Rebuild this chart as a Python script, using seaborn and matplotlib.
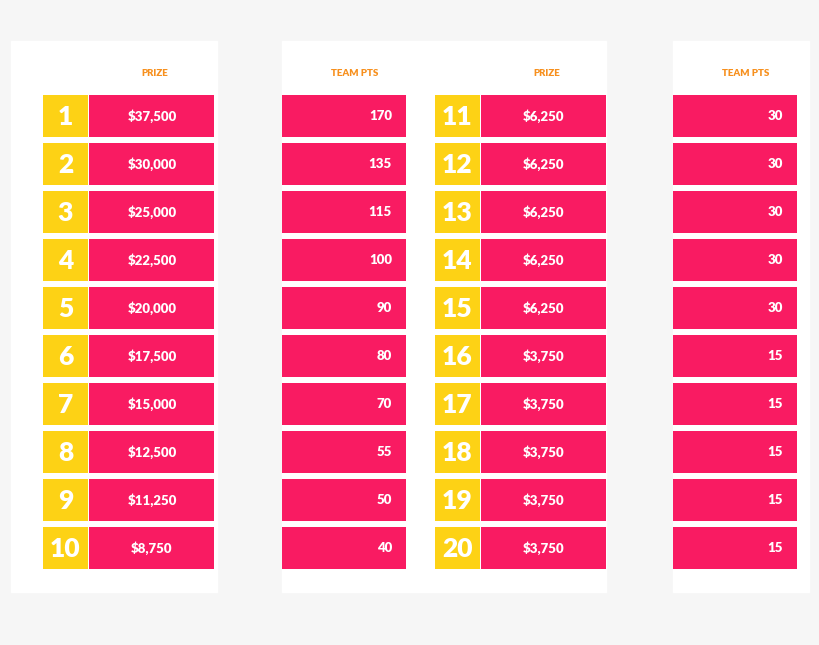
import seaborn as sns
import matplotlib.pyplot as plt
from matplotlib.patches import Rectangle

places = list(range(1, 21))
prizes = ["$37,500", "$30,000", "$25,000", "$22,500", "$20,000", "$17,500", "$15,000",
          "$12,500", "$11,250", "$8,750", "$6,250", "$6,250", "$6,250", "$6,250", "$6,250",
          "$3,750", "$3,750", "$3,750", "$3,750", "$3,750"]
team_pts = [170, 135, 115, 100, 90, 80, 70, 55, 50, 40,
            30, 30, 30, 30, 30, 15, 15, 15, 15, 15]

PINK = "#f91b62"
YELLOW = "#fdd215"
ORANGE = "#f7901e"

sns.set_style("white")
plt.rcParams['font.family'] = ['Lato', 'DejaVu Sans']

fig = plt.figure(figsize=(8.2, 6.45), dpi=100, facecolor="#f6f6f6")
ax = fig.add_axes([0, 0, 1, 1])
ax.set_xlim(0, 820)
ax.set_ylim(645, 0)
ax.axis("off")

# white panels
for x0, x1 in [(11, 217), (282, 606), (673, 809)]:
    ax.add_patch(Rectangle((x0, 41), x1 - x0, 551, color="white", zorder=0))

# column sets: (yellow x, prize pink x, pts pink x)
cols = [(43, 89, 282), (435, 481, 673)]
for c, (yx, px, tx) in enumerate(cols):
    ax.text(px + 66, 74, "PRIZE", color=ORANGE, fontsize=7, fontweight="heavy",
            ha="center", va="center")
    ax.text(tx + 73, 74, "TEAM PTS", color=ORANGE, fontsize=7, fontweight="heavy",
            ha="center", va="center")
    for r in range(10):
        i = c * 10 + r
        y = 95 + r * 48
        ax.add_patch(Rectangle((yx, y), 45, 42, color=YELLOW, lw=0))
        ax.add_patch(Rectangle((px, y), 125, 42, color=PINK, lw=0))
        ax.add_patch(Rectangle((tx, y), 124, 42, color=PINK, lw=0))
        ax.text(yx + 22.5, y + 22, str(places[i]), color="white", fontsize=19,
                fontweight="heavy", ha="center", va="center", fontstretch="condensed")
        ax.text(px + 63, y + 21.5, prizes[i], color="white", fontsize=9.5,
                fontweight="heavy", ha="center", va="center")
        ax.text(tx + 110, y + 21.5, str(team_pts[i]), color="white", fontsize=9.5,
                fontweight="heavy", ha="right", va="center")

fig.savefig("out.png", dpi=100, facecolor=fig.get_facecolor())
